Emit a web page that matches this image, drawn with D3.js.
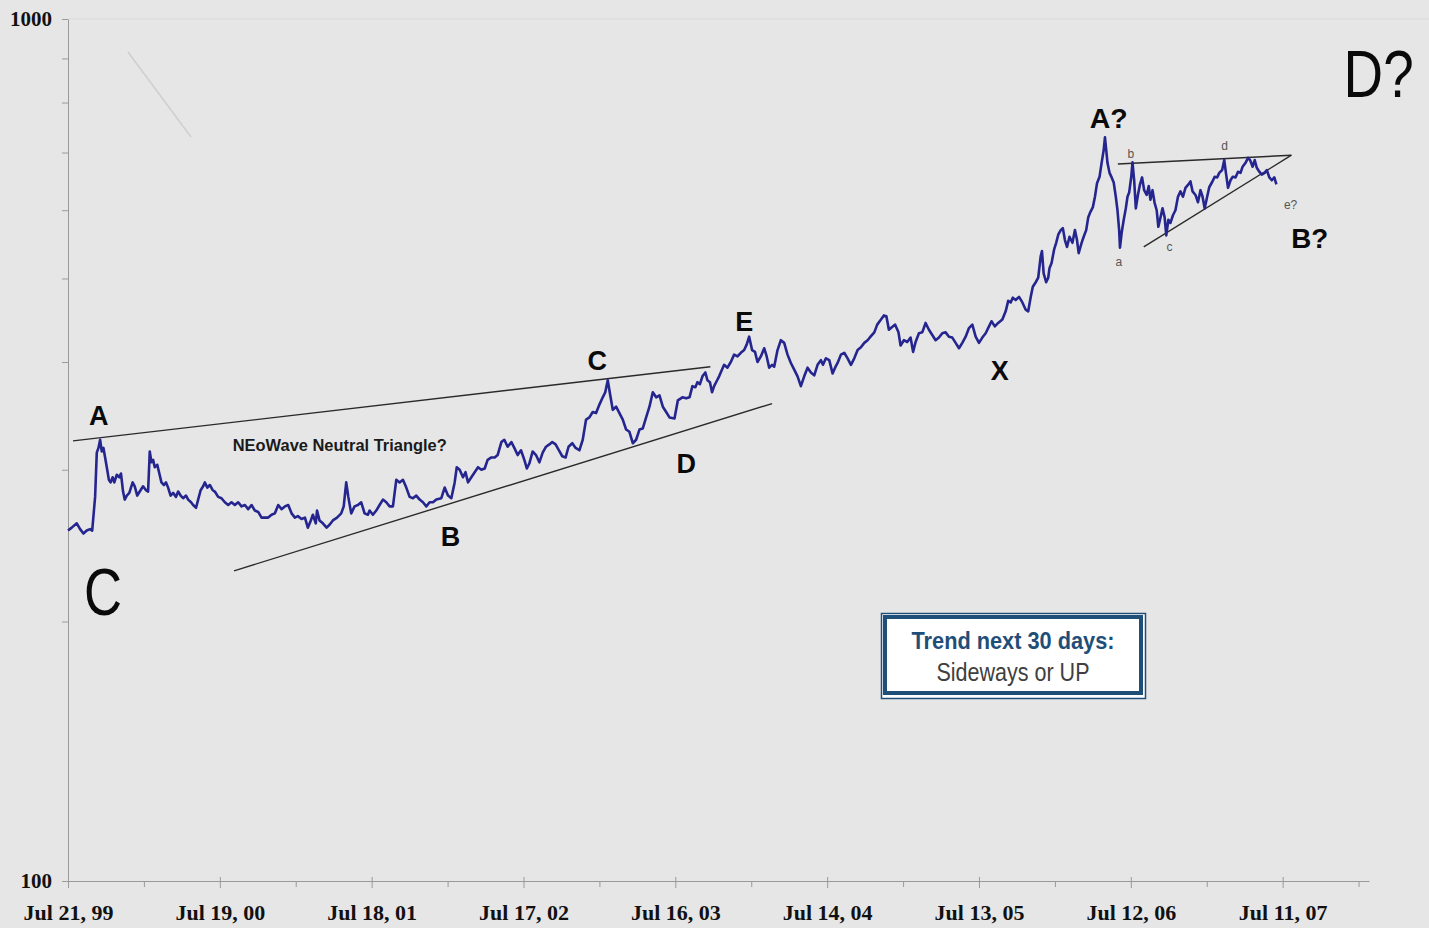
<!DOCTYPE html>
<html>
<head>
<meta charset="utf-8">
<script src="https://cdn.jsdelivr.net/npm/d3@7"></script>
<style>
  body { margin: 0; background: #e6e6e6; }
  svg { display: block; }
  .axis path, .axis line { stroke: #9a9a9a; }
  .axis text { font-family: 'Liberation Serif', 'Times New Roman', serif; font-weight: bold; fill: #111; }
</style>
</head>
<body>
<div id="chart"></div>
<script>
'use strict';

// start of the series, all day offsets count from here
let startDate = '1999-07-21';

// day offsets from startDate
let days = [
  0, 9, 21, 29, 37, 45, 53, 58, 65, 69, 73, 77, 81, 85, 89, 93, 98, 102, 107, 111,
  117, 123, 127, 132, 136, 141, 147, 155, 160, 166, 172, 180, 187, 192, 196, 200, 204, 208, 214, 219,
  224, 230, 235, 240, 246, 252, 259, 264, 270, 276, 283, 288, 295, 300, 307, 312, 318, 324, 328, 334,
  340, 347, 352, 360, 368, 376, 384, 392, 400, 408, 416, 424, 432, 440, 448, 456, 464, 472, 480, 488,
  496, 504, 512, 520, 528, 536, 544, 551, 560, 568, 575, 581, 587, 594, 597, 603, 611, 620, 627, 635,
  645, 655, 661, 667, 672, 679, 687, 695, 703, 711, 719, 723, 731, 739, 747, 755, 763, 771, 779, 787,
  795, 803, 811, 819, 827, 835, 843, 851, 859, 867, 875, 883, 895, 903, 911, 919, 927, 932, 939, 947,
  953, 959, 967, 975, 983, 991, 999, 1006, 1015, 1023, 1030, 1039, 1046, 1054, 1063, 1070, 1078, 1086, 1094, 1100,
  1106, 1114, 1122, 1130, 1138, 1146, 1154, 1161, 1169, 1177, 1185, 1193, 1200, 1209, 1217, 1226, 1234, 1242, 1250, 1258,
  1266, 1274, 1282, 1288, 1294, 1300, 1306, 1314, 1322, 1330, 1338, 1346, 1354, 1362, 1370, 1378, 1386, 1394, 1402, 1410,
  1418, 1426, 1434, 1442, 1454, 1462, 1473, 1482, 1490, 1497, 1504, 1509, 1515, 1521, 1528, 1533, 1539, 1544, 1549, 1555,
  1561, 1568, 1573, 1581, 1589, 1597, 1605, 1613, 1621, 1627, 1633, 1640, 1647, 1653, 1661, 1669, 1675, 1681, 1688, 1693,
  1701, 1709, 1717, 1725, 1733, 1741, 1749, 1757, 1765, 1773, 1781, 1789, 1797, 1805, 1810, 1817, 1825, 1833, 1839, 1845,
  1853, 1861, 1869, 1877, 1885, 1893, 1901, 1909, 1917, 1924, 1933, 1940, 1949, 1956, 1962, 1968, 1975, 1983, 1991, 1996,
  2004, 2012, 2020, 2026, 2032, 2040, 2048, 2056, 2064, 2072, 2080, 2088, 2096, 2104, 2112, 2120, 2128, 2136, 2144, 2152,
  2160, 2168, 2176, 2184, 2192, 2200, 2208, 2214, 2222, 2230, 2240, 2248, 2254, 2260, 2265, 2272, 2280, 2288, 2296, 2302,
  2308, 2313, 2320, 2326, 2332, 2335, 2339, 2345, 2350, 2353, 2358, 2364, 2369, 2374, 2380, 2385, 2390, 2395, 2401, 2408,
  2414, 2419, 2423, 2430, 2435, 2441, 2446, 2451, 2457, 2462, 2467, 2473, 2478, 2483, 2486, 2489, 2492, 2497, 2502, 2507,
  2512, 2516, 2520, 2522, 2526, 2531, 2536, 2540, 2544, 2549, 2552, 2556, 2560, 2565, 2570, 2575, 2580, 2586, 2591, 2595,
  2600, 2605, 2610, 2614, 2619, 2624, 2629, 2633, 2638, 2643, 2649, 2655, 2661, 2667, 2673, 2679, 2685, 2691, 2696, 2703,
  2709, 2715, 2720, 2725, 2731, 2736, 2743, 2749, 2755, 2760, 2767, 2772, 2776, 2781, 2787, 2792, 2799, 2805, 2811, 2816,
  2823, 2829, 2834, 2840, 2845, 2850, 2856, 2862, 2869, 2874, 2880, 2886, 2892, 2897
];

// closing values
let closes = [
  255, 257, 260, 256, 253, 255, 256, 255, 279, 314, 318, 325, 315, 318, 310, 302, 292, 290, 294, 290,
  296, 294, 297, 283, 277, 280, 282, 290, 287, 280, 283, 287, 284, 283, 315, 306, 308, 302, 304, 297,
  290, 288, 290, 286, 280, 282, 279, 283, 280, 278, 280, 277, 275, 273, 271, 277, 284, 287, 290, 286,
  288, 284, 283, 279, 278, 275, 273, 275, 273, 275, 272, 273, 270, 273, 269, 268, 264, 264, 264, 266,
  267, 273, 270, 272, 273, 267, 264, 265, 263, 264, 257, 261, 266, 260, 269, 262, 260, 257, 259, 262,
  264, 267, 272, 290, 279, 267, 272, 273, 275, 267, 266, 269, 266, 269, 273, 277, 275, 272, 272, 292,
  290, 292, 286, 279, 278, 280, 277, 275, 272, 275, 275, 277, 278, 286, 280, 278, 290, 302, 300, 294,
  298, 290, 294, 298, 302, 300, 301, 308, 310, 310, 312, 323, 325, 319, 323, 318, 312, 316, 308, 301,
  305, 315, 312, 306, 314, 319, 321, 323, 321, 316, 311, 310, 319, 322, 318, 316, 325, 343, 345, 350,
  349, 357, 364, 369, 381, 366, 352, 355, 349, 343, 334, 332, 322, 325, 334, 335, 345, 355, 369, 364,
  366, 355, 350, 345, 344, 361, 364, 363, 364, 375, 374, 379, 377, 385, 389, 381, 379, 369, 375, 380,
  385, 392, 397, 394, 400, 408, 406, 410, 413, 419, 428, 413, 411, 400, 406, 415, 406, 394, 397, 395,
  413, 424, 421, 408, 399, 392, 385, 375, 385, 394, 389, 386, 397, 402, 397, 404, 402, 388, 394, 399,
  408, 410, 404, 397, 404, 413, 416, 421, 424, 428, 433, 442, 448, 453, 452, 436, 439, 442, 433, 418,
  424, 422, 427, 411, 422, 432, 433, 444, 436, 430, 424, 427, 432, 433, 428, 427, 421, 415, 421, 428,
  438, 442, 428, 421, 427, 432, 440, 446, 440, 444, 448, 458, 471, 469, 475, 472, 476, 469, 460, 458,
  476, 489, 495, 501, 531, 538, 507, 495, 501, 514, 521, 540, 550, 562, 569, 572, 554, 544, 559, 550,
  569, 554, 535, 550, 559, 569, 589, 597, 605, 622, 645, 656, 681, 705, 729, 705, 681, 663, 655, 646,
  622, 600, 569, 543, 565, 585, 603, 622, 629, 656, 682, 650, 603, 625, 643, 655, 633, 625, 640, 617,
  633, 612, 600, 574, 588, 603, 589, 561, 585, 580, 592, 600, 622, 631, 622, 637, 642, 648, 631, 625,
  613, 633, 622, 603, 622, 638, 647, 656, 655, 663, 668, 686, 663, 637, 650, 656, 655, 665, 663, 674,
  681, 690, 686, 674, 686, 672, 665, 660, 663, 668, 655, 650, 655, 643
];

// x axis: labelled ticks every 52 weeks, minor ticks in between
let tickDates = ['1999-07-21', '2000-07-19', '2001-07-18', '2002-07-17', '2003-07-16',
                 '2004-07-14', '2005-07-13', '2006-07-12', '2007-07-11'];
let minorTickDates = ['2000-01-19', '2001-01-17', '2002-01-16', '2003-01-15', '2004-01-14',
                      '2005-01-12', '2006-01-11', '2007-01-10', '2008-01-09'];
let axisEnd = '2008-02-03';

// y axis (log)
let yMajorTicks = [100, 1000];
let yMinorTicks = [200, 300, 400, 500, 600, 700, 800, 900];

// trend lines: [dayFrom, valueFrom, dayTo, valueTo]
let trendLines = [
  [12, 324, 1540, 395],     // upper side of the big triangle
  [398, 229, 1688, 358],    // lower side of the big triangle
  [2517, 679, 2933, 695],   // upper side of the small triangle
  [2579, 544, 2933, 695]    // lower side of the small triangle
];

// wave labels: [text, day, value, size, weight, width]
let waveLabels = [
  ['A', 74, 338, 27, 'bold', 0],
  ['B', 917, 244.7, 27, 'bold', 0],
  ['C', 1269, 392, 27, 'bold', 0],
  ['D', 1482, 297.6, 27, 'bold', 0],
  ['E', 1621, 434, 27, 'bold', 0],
  ['X', 2234, 381, 27, 'bold', 0],
  ['A?', 2495, 747, 28, 'bold', 38],
  ['B?', 2977, 542, 28, 'bold', 37],
  ['C', 84, 203.5, 66, 'normal', 38],
  ['D?', 3142, 812, 66, 'normal', 70]
];

// small sub-wave labels of the last triangle
let subLabels = [
  ['a', 2519, 517],
  ['b', 2548, 690],
  ['c', 2641, 538],
  ['d', 2773, 705],
  ['e?', 2931, 602]
];

let triangleNote = ['NEoWave Neutral Triangle?', 395, 315.5];
let trendBox = ['Trend next 30 days:', 'Sideways or UP'];

let width = 1429;
let height = 928;

let parseDate = d3.timeParse('%Y-%m-%d');
let start = parseDate(startDate);
let dayToDate = function(d) { return d3.timeDay.offset(start, d); };

let series = days.map(function(d, i) {
  return { date: dayToDate(d), close: closes[i] };
});

let svg = d3.select('#chart')
  .append('svg')
  .attr('width', width)
  .attr('height', height);

svg.append('rect')
  .attr('width', width)
  .attr('height', height)
  .attr('fill', '#e6e6e6');

let x = d3.scaleTime()
  .domain([start, parseDate(axisEnd)])
  .range([68, 1369]);

let y = d3.scaleLog()
  .domain([100, 1000])
  .range([881, 19]);

// faint line along the 1000 level
svg.append('line')
  .attr('x1', x(start))
  .attr('x2', width)
  .attr('y1', y(1000))
  .attr('y2', y(1000))
  .attr('stroke', '#dadada')
  .attr('stroke-width', 1);

// stray faint stroke top left (present in the original)
svg.append('line')
  .attr('x1', 128).attr('y1', 52)
  .attr('x2', 191).attr('y2', 137)
  .attr('stroke', '#cfcfcf')
  .attr('stroke-width', 1.5);

// X axis
let xAxis = d3.axisBottom(x)
  .tickValues(tickDates.map(parseDate))
  .tickFormat(d3.timeFormat('%b %-d, %y'))
  .tickSize(7)
  .tickSizeOuter(0)
  .tickPadding(10);

let gX = svg.append('g')
  .attr('class', 'x axis')
  .attr('transform', 'translate(0,' + y(100) + ')')
  .call(xAxis);
gX.selectAll('.tick line').attr('y1', -4);
gX.selectAll('.tick text').style('font-size', '22px').attr('dy', '1.0em');

svg.append('g')
  .attr('class', 'x axis minor')
  .attr('transform', 'translate(0,' + y(100) + ')')
  .call(d3.axisBottom(x).tickValues(minorTickDates.map(parseDate)).tickSize(6).tickSizeOuter(0).tickFormat(''))
  .select('.domain').remove();

// Y axis
let gY = svg.append('g')
  .attr('class', 'y axis')
  .attr('transform', 'translate(' + x(start) + ',0)')
  .call(d3.axisLeft(y).tickValues(yMajorTicks).tickFormat(d3.format('d')).tickSize(6).tickSizeOuter(0).tickPadding(10));
gY.selectAll('.tick text').style('font-size', '21px');

svg.append('g')
  .attr('class', 'y axis minor')
  .attr('transform', 'translate(' + x(start) + ',0)')
  .call(d3.axisLeft(y).tickValues(yMinorTicks).tickSize(6).tickSizeOuter(0).tickFormat(''))
  .select('.domain').remove();

// trend lines
svg.append('g')
  .selectAll('line')
  .data(trendLines)
  .join('line')
  .attr('x1', d => x(dayToDate(d[0])))
  .attr('y1', d => y(d[1]))
  .attr('x2', d => x(dayToDate(d[2])))
  .attr('y2', d => y(d[3]))
  .attr('stroke', '#2a2a2a')
  .attr('stroke-width', 1.4);

// price line
let line = d3.line()
  .x(d => x(d.date))
  .y(d => y(d.close));

svg.append('path')
  .datum(series)
  .attr('d', line)
  .attr('fill', 'none')
  .attr('stroke', '#25258f')
  .attr('stroke-width', 2.6)
  .attr('stroke-linejoin', 'round');

// wave labels
let labelG = svg.append('g')
  .style('font-family', "'Liberation Sans', Arial, sans-serif")
  .attr('text-anchor', 'middle');

labelG.selectAll('text.wave')
  .data(waveLabels)
  .join('text')
  .attr('class', 'wave')
  .attr('x', d => x(dayToDate(d[1])))
  .attr('y', d => y(d[2]))
  .style('font-size', d => d[3] + 'px')
  .style('font-weight', d => d[4])
  .attr('fill', '#0a0a0a')
  .each(function(d) {
    if (d[5]) {
      d3.select(this).attr('textLength', d[5]).attr('lengthAdjust', 'spacingAndGlyphs');
    }
  })
  .text(d => d[0]);

labelG.selectAll('text.sub')
  .data(subLabels)
  .join('text')
  .attr('class', 'sub')
  .attr('x', d => x(dayToDate(d[1])))
  .attr('y', d => y(d[2]))
  .style('font-size', '12px')
  .attr('fill', '#555')
  .text(d => d[0]);

svg.append('text')
  .attr('x', x(dayToDate(triangleNote[1])))
  .attr('y', y(triangleNote[2]))
  .style('font-family', "'Liberation Sans', Arial, sans-serif")
  .style('font-size', '17px')
  .style('font-weight', 'bold')
  .attr('fill', '#1a1a1a')
  .attr('textLength', 214)
  .attr('lengthAdjust', 'spacingAndGlyphs')
  .text(triangleNote[0]);

// trend box (legend-like, fixed position)
let box = svg.append('g').attr('transform', 'translate(881,613)');
box.append('rect')
  .attr('x', 0.5).attr('y', 0.5)
  .attr('width', 264).attr('height', 85)
  .attr('fill', '#fff')
  .attr('stroke', '#1f4e79')
  .attr('stroke-width', 1.5);
box.append('rect')
  .attr('x', 4).attr('y', 4)
  .attr('width', 256).attr('height', 76)
  .attr('fill', '#fff')
  .attr('stroke', '#1f4e79')
  .attr('stroke-width', 4);
box.append('text')
  .attr('x', 132).attr('y', 36)
  .attr('text-anchor', 'middle')
  .style('font-family', "'Liberation Sans', Arial, sans-serif")
  .style('font-size', '24px')
  .style('font-weight', 'bold')
  .attr('fill', '#1f4e79')
  .attr('textLength', 203)
  .attr('lengthAdjust', 'spacingAndGlyphs')
  .text(trendBox[0]);
box.append('text')
  .attr('x', 132).attr('y', 68)
  .attr('text-anchor', 'middle')
  .style('font-family', "'Liberation Sans', Arial, sans-serif")
  .style('font-size', '25px')
  .attr('fill', '#404040')
  .attr('textLength', 153)
  .attr('lengthAdjust', 'spacingAndGlyphs')
  .text(trendBox[1]);
</script>
</body>
</html>
